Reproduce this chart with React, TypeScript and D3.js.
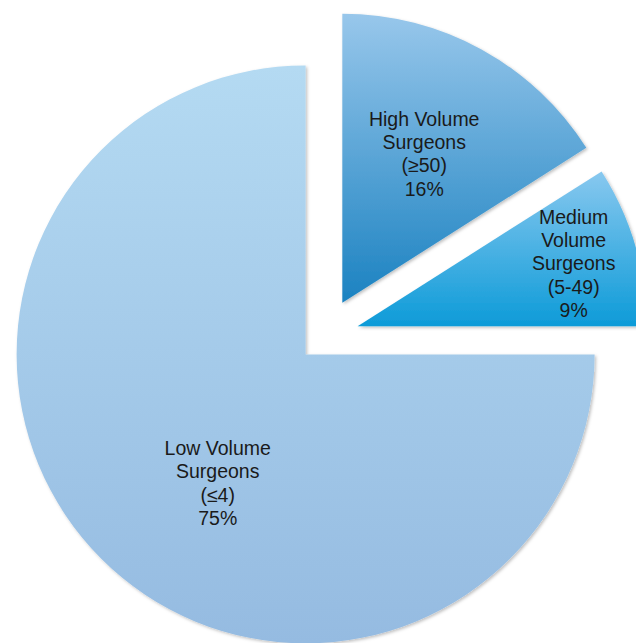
import React from "react";
import * as d3 from "d3";

const categories = ["High Volume", "Medium Volume", "Low Volume"];
const labelLines = [
  ["High Volume", "Surgeons", "(≥50)", "16%"],
  ["Medium", "Volume", "Surgeons", "(5-49)", "9%"],
  ["Low Volume", "Surgeons", "(≤4)", "75%"],
];
const values = [16, 9, 75];

// styling / layout (not data)
const W = 636;
const H = 643;
const CX = 324;
const CY = 336;
const R = 289;
const explode = [38, 35, 26];
const labelRadius = [170, 225, 156];
const labelAngleShift = [0, 0, -10.7];
const gradTop = ["#98c7eb", "#88c8ef", "#b4daf2"];
const gradBottom = ["#1b82c1", "#0d9bd8", "#95bbe1"];
const FONT = 19.5;
const LINE = 23.3;

export default function App() {
  const pie = d3
    .pie<number>()
    .sort(null)
    .startAngle(0)
    .endAngle(2 * Math.PI)
    .value((d) => d);
  const arcs = pie(values);
  const arcGen = d3.arc<d3.PieArcDatum<number>>().innerRadius(0).outerRadius(R);

  return (
    <svg
      width={W}
      height={H}
      style={{ position: "absolute", left: 0, top: 0, background: "#fff" }}
    >
      <defs>
        {arcs.map((a, i) => (
          <linearGradient key={i} id={`g${i}`} x1="0" y1="0" x2="0" y2="1">
            <stop offset="0%" stopColor={gradTop[i]} />
            <stop offset="100%" stopColor={gradBottom[i]} />
          </linearGradient>
        ))}
        <filter id="sh" x="-10%" y="-10%" width="120%" height="120%">
          <feDropShadow dx="1.5" dy="1.5" stdDeviation="1.5" floodColor="#000" floodOpacity="0.25" />
        </filter>
      </defs>
      {arcs.map((a, i) => {
        const mid = (a.startAngle + a.endAngle) / 2;
        const ox = CX + explode[i] * Math.sin(mid);
        const oy = CY - explode[i] * Math.cos(mid);
        const la = mid + (labelAngleShift[i] * Math.PI) / 180;
        const lx = ox + labelRadius[i] * Math.sin(la);
        const ly = oy - labelRadius[i] * Math.cos(la);
        const lines = labelLines[i];
        const y0 = ly - ((lines.length - 1) * LINE) / 2 + FONT * 0.35;
        return (
          <g key={categories[i]}>
            <path
              d={arcGen(a) || ""}
              transform={`translate(${ox},${oy})`}
              fill={`url(#g${i})`}
              filter="url(#sh)"
            />
            <text
              x={lx}
              y={y0}
              textAnchor="middle"
              fontFamily="'Liberation Sans', Arial, sans-serif"
              fontSize={FONT}
              fill="#1a1a1a"
            >
              {lines.map((t, j) => (
                <tspan key={j} x={lx} y={y0 + j * LINE}>
                  {t}
                </tspan>
              ))}
            </text>
          </g>
        );
      })}
    </svg>
  );
}
